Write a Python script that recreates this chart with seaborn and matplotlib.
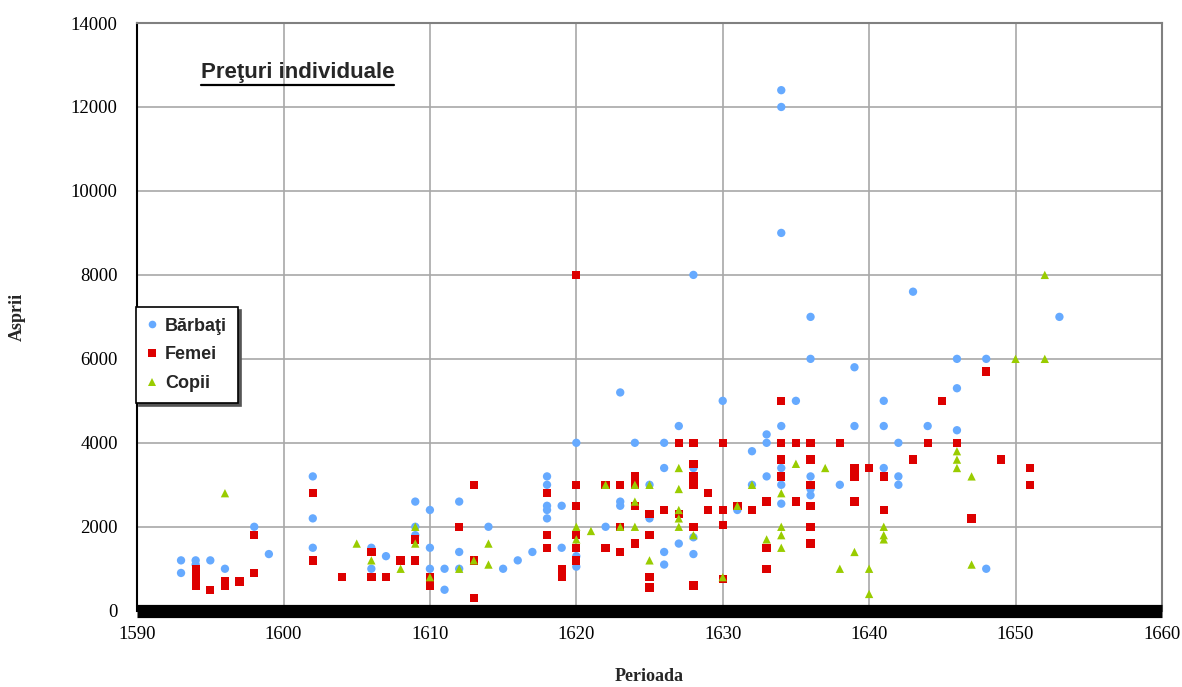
import pandas as pd
import matplotlib.pyplot as plt
import seaborn as sns
from matplotlib.lines import Line2D

# --- data (year, price in asprii) ---
barbati_ani = [1593, 1593, 1594, 1594, 1595, 1596, 1598, 1599, 1602, 1602, 1602,
               1606, 1606, 1607, 1609, 1609, 1609, 1610, 1610, 1610, 1611, 1611,
               1612, 1612, 1612, 1614, 1615, 1616, 1617, 1618, 1618, 1618, 1618, 1618,
               1619, 1619, 1620, 1620, 1620, 1622, 1623, 1623, 1623, 1624, 1625, 1625,
               1626, 1626, 1626, 1626, 1627, 1627, 1628, 1628, 1628, 1628, 1630, 1631,
               1632, 1632, 1633, 1633, 1633, 1634, 1634, 1634, 1634, 1634, 1634, 1634,
               1635, 1636, 1636, 1636, 1636, 1636, 1638, 1639, 1639, 1641, 1641, 1641,
               1642, 1642, 1642, 1643, 1644, 1646, 1646, 1646, 1648, 1648, 1653]
barbati_val = [1200, 900, 1200, 1100, 1200, 1000, 2000, 1350, 3200, 2200, 1500,
               1500, 1000, 1300, 2600, 2000, 1800, 2400, 1500, 1000, 1000, 500,
               2600, 1400, 1000, 2000, 1000, 1200, 1400, 3200, 3000, 2500, 2400, 2200,
               2500, 1500, 4000, 1300, 1050, 2000, 5200, 2600, 2500, 4000, 3000, 2200,
               4000, 3400, 1400, 1100, 4400, 1600, 8000, 3400, 1750, 1350, 5000, 2400,
               3800, 3000, 4200, 4000, 3200, 12400, 12000, 9000, 4400, 3400, 3000, 2550,
               5000, 7000, 6000, 3200, 2900, 2750, 3000, 5800, 4400, 5000, 4400, 3400,
               4000, 3200, 3000, 7600, 4400, 6000, 5300, 4300, 6000, 1000, 7000]

femei_ani = [1594, 1594, 1594, 1594, 1595, 1596, 1596, 1597, 1598, 1598, 1602, 1602,
             1604, 1606, 1606, 1607, 1608, 1609, 1609, 1610, 1610, 1612, 1613, 1613, 1613,
             1618, 1618, 1618, 1619, 1619, 1620, 1620, 1620, 1620, 1620, 1620,
             1622, 1622, 1623, 1623, 1623, 1624, 1624, 1624, 1624, 1624,
             1625, 1625, 1625, 1625, 1626, 1627, 1627, 1628, 1628, 1628, 1628, 1628, 1628,
             1629, 1629, 1630, 1630, 1630, 1630, 1631, 1632, 1633, 1633, 1633,
             1634, 1634, 1634, 1634, 1635, 1635, 1636, 1636, 1636, 1636, 1636, 1636,
             1638, 1639, 1639, 1639, 1640, 1641, 1641, 1643, 1644, 1645, 1646, 1647,
             1648, 1649, 1651, 1651]
femei_val = [1000, 800, 700, 600, 500, 700, 600, 700, 1800, 900, 2800, 1200,
             800, 1400, 800, 800, 1200, 1700, 1200, 800, 600, 2000, 3000, 1200, 300,
             2800, 1800, 1500, 1000, 800, 8000, 3000, 2500, 1800, 1500, 1200,
             3000, 1500, 3000, 2000, 1400, 3200, 3100, 3000, 2500, 1600,
             2300, 1800, 800, 550, 2400, 4000, 2300, 4000, 3500, 3200, 3000, 2000, 600,
             2800, 2400, 4000, 2400, 2050, 750, 2500, 2400, 2600, 1500, 1000,
             5000, 4000, 3600, 3200, 4000, 2600, 4000, 3600, 3000, 2500, 2000, 1600,
             4000, 3400, 3200, 2600, 3400, 3200, 2400, 3600, 4000, 5000, 4000, 2200,
             5700, 3600, 3400, 3000]

copii_ani = [1596, 1605, 1606, 1608, 1609, 1609, 1610, 1612, 1613, 1614, 1614,
             1620, 1620, 1621, 1622, 1623, 1624, 1624, 1624, 1625, 1625,
             1627, 1627, 1627, 1627, 1627, 1628, 1630, 1631, 1632, 1633,
             1634, 1634, 1634, 1634, 1635, 1637, 1638, 1639, 1640, 1640,
             1641, 1641, 1641, 1646, 1646, 1646, 1647, 1647, 1650, 1652, 1652]
copii_val = [2800, 1600, 1200, 1000, 2000, 1600, 800, 1000, 1200, 1600, 1100,
             2000, 1700, 1900, 3000, 2000, 3000, 2600, 2000, 3000, 1200,
             3400, 2900, 2400, 2200, 2000, 1800, 800, 2500, 3000, 1700,
             2800, 2000, 1800, 1500, 3500, 3400, 1000, 1400, 1000, 400,
             2000, 1800, 1700, 3800, 3600, 3400, 3200, 1100, 6000, 8000, 6000]

grupe = ['Bărbaţi', 'Femei', 'Copii']
culori = {'Bărbaţi': '#66AAFF', 'Femei': '#DD0000', 'Copii': '#99CC00'}
markere = {'Bărbaţi': 'o', 'Femei': 's', 'Copii': '^'}

df = pd.concat([
    pd.DataFrame({'Perioada': barbati_ani, 'Asprii': barbati_val, 'grup': 'Bărbaţi'}),
    pd.DataFrame({'Perioada': femei_ani, 'Asprii': femei_val, 'grup': 'Femei'}),
    pd.DataFrame({'Perioada': copii_ani, 'Asprii': copii_val, 'grup': 'Copii'}),
], ignore_index=True)

sns.set_style("white")
plt.rcParams['font.family'] = ['Liberation Serif', 'DejaVu Serif']

fig = plt.figure(figsize=(11.82, 6.87), dpi=100)
ax = fig.add_axes([0.116, 0.111, 0.867, 0.8555])

sns.scatterplot(data=df, x='Perioada', y='Asprii', hue='grup', style='grup',
                hue_order=grupe, style_order=grupe, palette=culori, markers=markere,
                s=36, linewidth=0, ax=ax, legend=False, zorder=3)

ax.set_xlim(1590, 1660)
ax.set_ylim(0, 14000)
ax.set_xticks(range(1590, 1661, 10))
ax.set_yticks(range(0, 14001, 2000))
ax.grid(True, color='#A8A8A8', linewidth=1.2)
ax.set_axisbelow(True)

for side in ['top', 'right']:
    ax.spines[side].set_color('#808080')
    ax.spines[side].set_linewidth(1.5)
ax.spines['left'].set_color('black')
ax.spines['left'].set_linewidth(1.5)
ax.spines['bottom'].set_color('black')
ax.spines['bottom'].set_linewidth(9.5)
ax.spines['bottom'].set_capstyle('butt')
ax.spines['bottom'].set_zorder(4)

ax.tick_params(axis='both', direction='out', length=5, width=1, colors='black',
               labelsize=13.5)
ax.tick_params(axis='y', pad=9)
ax.tick_params(axis='x', length=8, pad=3)

ax.set_xlabel('Perioada', fontsize=13, fontweight='bold')
ax.set_ylabel('Asprii', fontsize=13, fontweight='bold')
ax.xaxis.set_label_coords(0.5, -0.098)
ax.yaxis.set_label_coords(-0.109, 0.5)

# title inside the plot, underlined
titlu = ax.text(0.062, 0.906, 'Preţuri individuale', transform=ax.transAxes,
                fontsize=16, fontweight='bold', family=['Liberation Sans', 'DejaVu Sans'],
                va='baseline', ha='left')
fig.canvas.draw()
bb = titlu.get_window_extent().transformed(fig.transFigure.inverted())
fig.add_artist(Line2D([bb.x0, bb.x1], [bb.y0 - 0.002, bb.y0 - 0.002],
                      transform=fig.transFigure, color='black', linewidth=1.6))

handles = [Line2D([], [], linestyle='none', marker=markere[g], color=culori[g],
                  markersize=5.5, markeredgewidth=0) for g in grupe]
leg = ax.legend(handles, grupe, loc='upper left', bbox_to_anchor=(-0.001, 0.517),
                borderaxespad=0, frameon=True, fancybox=False,
                shadow={'color': '#555555', 'alpha': 1},
                edgecolor='black', handlelength=0.6, handletextpad=0.4,
                borderpad=0.6, labelspacing=0.65,
                prop={'family': ['Liberation Sans', 'DejaVu Sans'], 'weight': 'bold', 'size': 13})
leg.get_frame().set_linewidth(1.2)
leg.set_zorder(5)

plt.savefig('out.png', dpi=100)
